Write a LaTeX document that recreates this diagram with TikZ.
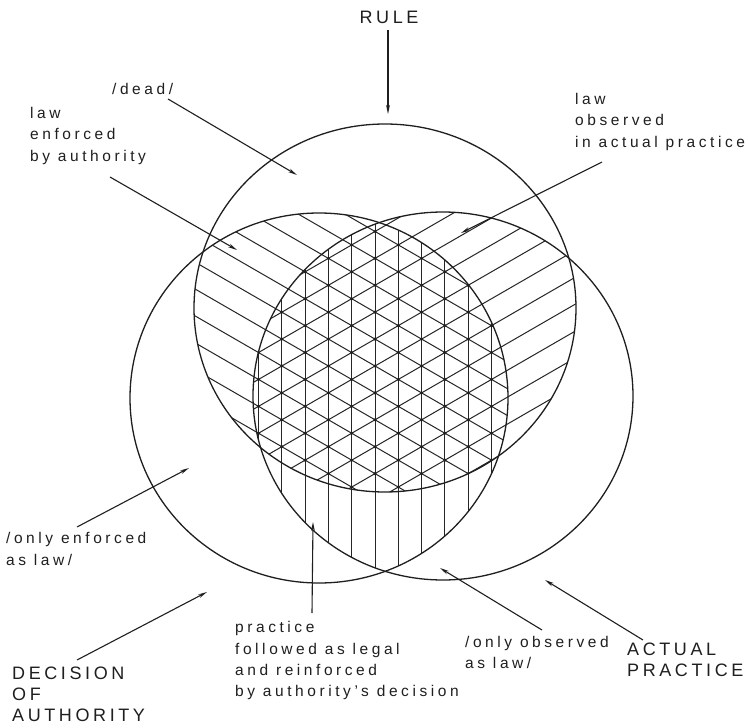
\documentclass[tikz,border=0pt]{standalone}
\usepackage{fontspec}
\setmainfont{Liberation Sans}[LetterSpace=23]
\newfontfamily\capfont{Liberation Sans}[LetterSpace=20]
\usetikzlibrary{arrows.meta}
\begin{document}
\begin{tikzpicture}[x=1pt,y=-1pt,
  circ/.style={line width=1.3pt, draw=black!88},
  hatch/.style={line width=1.0pt, draw=black!85},
  arr/.style={line width=1.1pt, draw=black!88, -{Stealth[length=9pt,width=3.8pt]}},
  lab/.style={font=\fontsize{15.5}{21.3}\selectfont, inner sep=0pt, anchor=base west, align=left, text=black!88},
  caps/.style={font=\capfont\fontsize{18}{21}\selectfont, inner sep=0pt, anchor=base west, align=left, text=black!88}]
\useasboundingbox (0,0) rectangle (748,728);
\fill[white] (0,0) rectangle (748,728);
% --- hatching: Rule & Authority ---
\begin{scope}
  \clip (385,308) ellipse [x radius=191pt, y radius=184pt];
  \clip (319,398) ellipse [x radius=189pt, y radius=185pt];
  \begin{scope}[rotate around={60:(375,446.7)}]
    \foreach \k in {-18,...,18} \draw[hatch] ({375+\k*23.3},0) -- ({375+\k*23.3},900);
  \end{scope}
\end{scope}
% --- hatching: Rule & Practice ---
\begin{scope}
  \clip (385,308) ellipse [x radius=191pt, y radius=184pt];
  \clip (443,396) ellipse [x radius=190pt, y radius=184pt];
  \begin{scope}[rotate around={-60:(375,446.7)}]
    \foreach \k in {-18,...,18} \draw[hatch] ({375+\k*23.3},0) -- ({375+\k*23.3},900);
  \end{scope}
\end{scope}
% --- hatching: Authority & Practice ---
\begin{scope}
  \clip (319,398) ellipse [x radius=189pt, y radius=185pt];
  \clip (443,396) ellipse [x radius=190pt, y radius=184pt];
  \foreach \k in {-18,...,18} \draw[hatch] ({375+\k*23.3},0) -- ({375+\k*23.3},900);
\end{scope}
% --- dots at the grid points of the triple region ---
\begin{scope}
  \clip (385,308) ellipse [x radius=191pt, y radius=184pt];
  \clip (319,398) ellipse [x radius=189pt, y radius=185pt];
  \clip (443,396) ellipse [x radius=190pt, y radius=184pt];
  \foreach \i in {-12,...,12}{
    \foreach \j in {-12,...,12}{
      \fill[black!88] ({375+(\j-\i)*23.3},{446.7+(\i+\j)*13.452}) circle[radius=1.7pt];
    }
  }
\end{scope}
% --- circles ---
\draw[circ] (385,308) ellipse [x radius=191pt, y radius=184pt];
\draw[circ] (319,398) ellipse [x radius=189pt, y radius=185pt];
\draw[circ] (443,396) ellipse [x radius=190pt, y radius=184pt];
% --- labels (anchored at the baseline of their last line) ---
\node[caps, anchor=base] (rule) at (389,23.3) {RULE};
\node[lab] (dead) at (112,94.5) {/dead/};
\node[lab] (enf) at (30,161) {law\\enforced\\by authority};
\node[lab] (obs) at (575,147) {law\\observed\\in actual practice};
\node[lab] (onlyenf) at (6,565) {/only enforced\\as law/};
\node[caps] (dec) at (12,721.7) {DECISION\\OF\\AUTHORITY};
\node[lab] (prac) at (235,696.7) {practice\\followed as legal\\and reinforced\\by authority's decision};
\node[lab] (onlyobs) at (465,668.3) {/only observed\\as law/};
\node[caps] (act) at (627,676.7) {ACTUAL\\PRACTICE};
% --- arrow end points ---
\coordinate (r0) at (388,30);   \coordinate (r1) at (388,114);
\coordinate (d0) at (168,99);   \coordinate (d1) at (297,175);
\coordinate (e0) at (110,177);  \coordinate (e1) at (237,250);
\coordinate (o0) at (602,162);  \coordinate (o1) at (461,233);
\coordinate (oe0) at (77,527);  \coordinate (oe1) at (189,468);
\coordinate (de0) at (77,660);  \coordinate (de1) at (207,592);
\coordinate (p0) at (312,613);  \coordinate (p1) at (313,522);
\coordinate (ob0) at (542,630); \coordinate (ob1) at (440,568);
\coordinate (a0) at (643,640);  \coordinate (a1) at (545,580);
\draw[arr] (r0) -- (r1);
\draw[arr] (d0) -- (d1);
\draw[arr] (e0) -- (e1);
\draw[arr] (o0) -- (o1);
\draw[arr] (oe0) -- (oe1);
\draw[arr] (de0) -- (de1);
\draw[arr] (p0) -- (p1);
\draw[arr] (ob0) -- (ob1);
\draw[arr] (a0) -- (a1);
\end{tikzpicture}
\end{document}
